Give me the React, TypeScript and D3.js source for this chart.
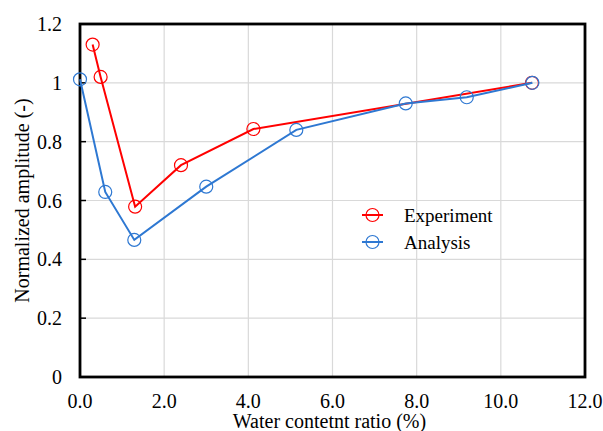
import React from 'react';
import * as d3 from 'd3';

// Experiment (red)
const expX = [0.3, 0.49, 1.31, 2.4, 4.12, 10.74];
const expY = [1.13, 1.02, 0.579, 0.72, 0.843, 1.0];

// Analysis (blue)
const anaX = [0.0, 0.6, 1.29, 3.0, 5.14, 7.74, 9.19, 10.75];
const anaY = [1.012, 0.629, 0.466, 0.647, 0.84, 0.93, 0.951, 1.0];

const xTicks = [0, 2, 4, 6, 8, 10, 12];
const yTicks = [0, 0.2, 0.4, 0.6, 0.8, 1.0, 1.2];

const seriesNames = ['Experiment', 'Analysis'];
const seriesColors = ['#ff0000', '#2e78d2'];

const W = 603;
const H = 431;
const FONT = 'Liberation Serif, Times New Roman, DejaVu Serif, serif';

export default function App() {
  const x = d3.scaleLinear().domain([0, 12]).range([80, 585]);
  const y = d3.scaleLinear().domain([0, 1.2]).range([377, 24]);

  const line = d3.line<[number, number]>()
    .x(d => x(d[0]))
    .y(d => y(d[1]));

  const series = [
    { name: seriesNames[0], color: seriesColors[0], pts: expX.map((v, i) => [v, expY[i]] as [number, number]) },
    { name: seriesNames[1], color: seriesColors[1], pts: anaX.map((v, i) => [v, anaY[i]] as [number, number]) },
  ];

  const [x0, x1] = x.range();
  const [y0, y1] = y.range();

  return (
    <svg
      width={W}
      height={H}
      style={{ position: 'absolute', left: 0, top: 0, background: '#fff', fontFamily: FONT }}
    >
      {/* grid */}
      <g stroke="#d9d9d9" strokeWidth={1.2}>
        {xTicks.slice(1, -1).map(t => (
          <line key={'gx' + t} x1={x(t)} x2={x(t)} y1={y1} y2={y0} />
        ))}
        {yTicks.slice(1, -1).map(t => (
          <line key={'gy' + t} x1={x0} x2={x1} y1={y(t)} y2={y(t)} />
        ))}
      </g>

      {/* ticks */}
      <g stroke="#000" strokeWidth={1.5}>
        {yTicks.map(t => (
          <line key={'ty' + t} x1={x0} x2={x0 + 6} y1={y(t)} y2={y(t)} />
        ))}
      </g>

      {/* frame */}
      <rect x={x0} y={y1} width={x1 - x0} height={y0 - y1} fill="none" stroke="#000" strokeWidth={2.8} />

      {/* series */}
      {series.map(s => (
        <g key={s.name}>
          <path d={line(s.pts) || ''} fill="none" stroke={s.color} strokeWidth={2} />
          {s.pts.map((p, i) => (
            <circle key={i} cx={x(p[0])} cy={y(p[1])} r={6.5} fill="none" stroke={s.color} strokeWidth={1.2} />
          ))}
        </g>
      ))}

      {/* tick labels */}
      <g fontSize={20} fill="#000">
        {yTicks.map(t => (
          <text key={'ly' + t} x={62} y={y(t)} dy="0.35em" textAnchor="end">
            {t === 0 || t === 1 ? String(t) : t.toFixed(1)}
          </text>
        ))}
        {xTicks.map(t => (
          <text key={'lx' + t} x={x(t)} y={408} textAnchor="middle">
            {t.toFixed(1)}
          </text>
        ))}
      </g>

      {/* axis titles */}
      <text x={(x0 + x1) / 2 - 3} y={428} fontSize={20} textAnchor="middle">
        Water contetnt ratio (%)
      </text>
      <text transform={`translate(29, ${(y0 + y1) / 2}) rotate(-90)`} fontSize={20} textAnchor="middle">
        Normalized amplitude (-)
      </text>

      {/* legend */}
      {series.map((s, i) => {
        const ly = 215 + i * 27;
        return (
          <g key={'lg' + s.name}>
            <line x1={362} x2={383} y1={ly} y2={ly} stroke={s.color} strokeWidth={2} />
            <circle cx={372.5} cy={ly} r={6.5} fill="none" stroke={s.color} strokeWidth={1.2} />
            <text x={404} y={ly} dy="0.35em" fontSize={19}>{s.name}</text>
          </g>
        );
      })}
    </svg>
  );
}
